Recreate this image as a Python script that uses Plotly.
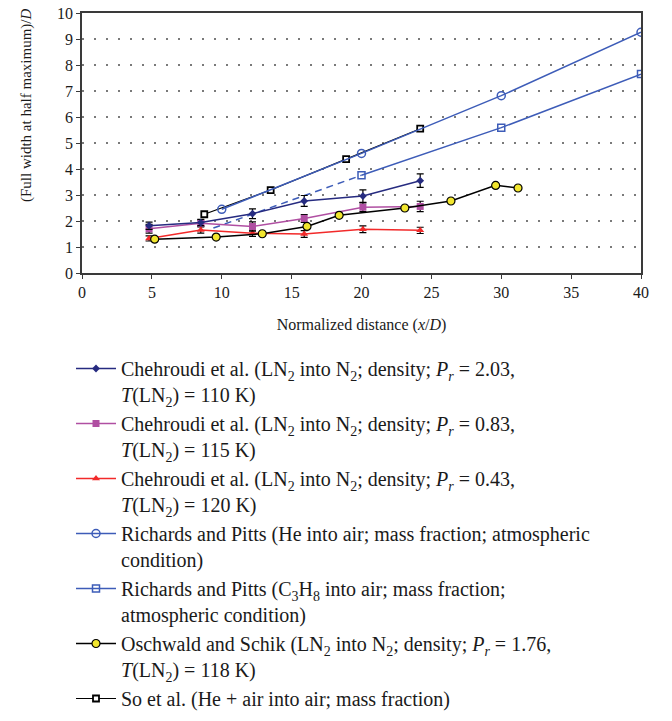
import plotly.graph_objects as go

# Chehroudi et al., LN2 into N2 (density), three reduced pressures
ch_x = [4.8, 8.5, 12.2, 15.9, 20.1, 24.2]
ch203_y = [1.82, 1.94, 2.28, 2.77, 2.96, 3.55]
ch203_err = [0.14, 0.12, 0.19, 0.21, 0.24, 0.26]
ch083_y = [1.70, 1.91, 1.79, 2.10, 2.53, 2.56]
ch083_err = [0.17, 0.12, 0.18, 0.15, 0.17, 0.20]
ch043_y = [1.33, 1.65, 1.53, 1.50, 1.68, 1.64]
ch043_err = [0.10, 0.12, 0.12, 0.13, 0.13, 0.12]

# Richards and Pitts, atmospheric jets
rp_he_x = [10, 20, 30, 40]
rp_he_y = [2.45, 4.60, 6.82, 9.26]
rp_c3h8_x = [20, 30, 40]
rp_c3h8_y = [3.76, 5.59, 7.65]
rp_c3h8_ext_x = [9.4, 20]
rp_c3h8_ext_y = [1.73, 3.76]

# Oschwald and Schik
os_x = [5.2, 9.6, 12.9, 16.1, 18.4, 23.1, 26.4, 29.6, 31.2]
os_y = [1.30, 1.38, 1.51, 1.79, 2.22, 2.50, 2.77, 3.37, 3.27]

# So et al.
so_x = [8.75, 13.5, 18.9, 24.2]
so_y = [2.26, 3.19, 4.38, 5.55]

x_ticks = [0, 5, 10, 15, 20, 25, 30, 35, 40]
y_ticks = list(range(0, 11))

SERIF = "Liberation Serif"
INK = "#1a1a1a"
NAVY = "#262B80"
MAGENTA = "#B04FA2"
RED = "#F22A2A"
BLUE = "#3D5CB8"
YELLOW = "#F2E62E"

W, H = 672, 721
M_L, M_R, M_T, M_B = 82, 31, 13, 448
PW, PH = W - M_L - M_R, H - M_T - M_B

lbl_ch = ("Chehroudi et al. (LN<sub>2</sub> into N<sub>2</sub>; density; "
          "<i>P<sub>r</sub></i> = {p},<br><i>T</i>(LN<sub>2</sub>) = {t} K)")

err_style = dict(type="data", color="black", thickness=1.2, width=3.5)

fig = go.Figure()

fig.add_trace(go.Scatter(
    x=rp_c3h8_ext_x, y=rp_c3h8_ext_y, mode="lines",
    line=dict(color=BLUE, width=1.5, dash="7px,5px"),
    showlegend=False, legendgroup="g5"))

fig.add_trace(go.Scatter(
    x=so_x, y=so_y, mode="lines+markers",
    name="So et al. (He + air into air; mass fraction)",
    line=dict(color="black", width=1.2),
    marker=dict(symbol="square", size=6, color="white",
                line=dict(color="black", width=1.8)),
    legendgroup="g7", legendrank=7))

fig.add_trace(go.Scatter(
    x=rp_he_x, y=rp_he_y, mode="lines+markers",
    name="Richards and Pitts (He into air; mass fraction; atmospheric<br>condition)",
    line=dict(color=BLUE, width=1.5),
    marker=dict(symbol="circle-open", size=8, color=BLUE, line=dict(width=1.5)),
    legendgroup="g4", legendrank=4))

fig.add_trace(go.Scatter(
    x=rp_c3h8_x, y=rp_c3h8_y, mode="lines+markers",
    name="Richards and Pitts (C<sub>3</sub>H<sub>8</sub> into air; mass fraction;<br>atmospheric condition)",
    line=dict(color=BLUE, width=1.5),
    marker=dict(symbol="square-open", size=7, color=BLUE, line=dict(width=1.5)),
    legendgroup="g5", legendrank=5))

fig.add_trace(go.Scatter(
    x=ch_x, y=ch043_y, mode="lines+markers",
    name=lbl_ch.format(p="0.43", t="120"),
    line=dict(color=RED, width=1.5),
    marker=dict(symbol="triangle-up", size=7, color=RED),
    error_y=dict(array=ch043_err, **err_style),
    legendgroup="g3", legendrank=3))

fig.add_trace(go.Scatter(
    x=ch_x, y=ch083_y, mode="lines+markers",
    name=lbl_ch.format(p="0.83", t="115"),
    line=dict(color=MAGENTA, width=1.5),
    marker=dict(symbol="square", size=7, color=MAGENTA),
    error_y=dict(array=ch083_err, **err_style),
    legendgroup="g2", legendrank=2))

fig.add_trace(go.Scatter(
    x=ch_x, y=ch203_y, mode="lines+markers",
    name=lbl_ch.format(p="2.03", t="110"),
    line=dict(color=NAVY, width=1.5),
    marker=dict(symbol="diamond", size=6, color=NAVY),
    error_y=dict(array=ch203_err, **err_style),
    legendgroup="g1", legendrank=1))

fig.add_trace(go.Scatter(
    x=os_x, y=os_y, mode="lines+markers",
    name=("Oschwald and Schik (LN<sub>2</sub> into N<sub>2</sub>; density; "
          "<i>P<sub>r</sub></i> = 1.76,<br><i>T</i>(LN<sub>2</sub>) = 118 K)"),
    line=dict(color="black", width=1.5),
    marker=dict(symbol="circle", size=8, color=YELLOW,
                line=dict(color="black", width=1.2)),
    legendgroup="g6", legendrank=6))

axis_common = dict(
    showline=True, mirror=True, linecolor="#3A3A3A", linewidth=1.5,
    ticks="outside", ticklen=4, tickwidth=1.2, tickcolor="#3A3A3A",
    zeroline=False,
    tickfont=dict(family=SERIF, size=16, color=INK),
)

fig.update_xaxes(
    range=[0, 40], tickvals=x_ticks, showgrid=False,
    title=dict(text="Normalized distance (<i>x</i>/<i>D</i>)",
               font=dict(family=SERIF, size=16, color=INK), standoff=19),
    **axis_common)
fig.update_yaxes(
    range=[0, 10], tickvals=y_ticks,
    showgrid=True, gridcolor="#7a7a7a", gridwidth=1.5, griddash="1.5px,10.5px",
    **axis_common)

# y-axis title placed as a rotated annotation, sitting high along the axis
fig.add_annotation(
    text="(Full width at half maximum)/<i>D</i>",
    textangle=-90, xref="paper", yref="paper",
    x=(27 - M_L) / PW, y=(H - M_B - 106) / PH,
    xanchor="center", yanchor="middle",
    showarrow=False, font=dict(family=SERIF, size=15, color=INK))

fig.update_layout(
    width=W, height=H,
    margin=dict(l=M_L, r=M_R, t=M_T, b=M_B, autoexpand=False),
    paper_bgcolor="white", plot_bgcolor="white",
    showlegend=True,
    legend=dict(
        xref="container", yref="container",
        x=71 / W, y=1 - 349 / H, xanchor="left", yanchor="top",
        font=dict(family=SERIF, size=20, color=INK),
        valign="top", itemwidth=40, maxheight=380,
        tracegroupgap=4.5, bgcolor="rgba(0,0,0,0)", traceorder="normal",
    ),
)

fig.write_html("out.html")
